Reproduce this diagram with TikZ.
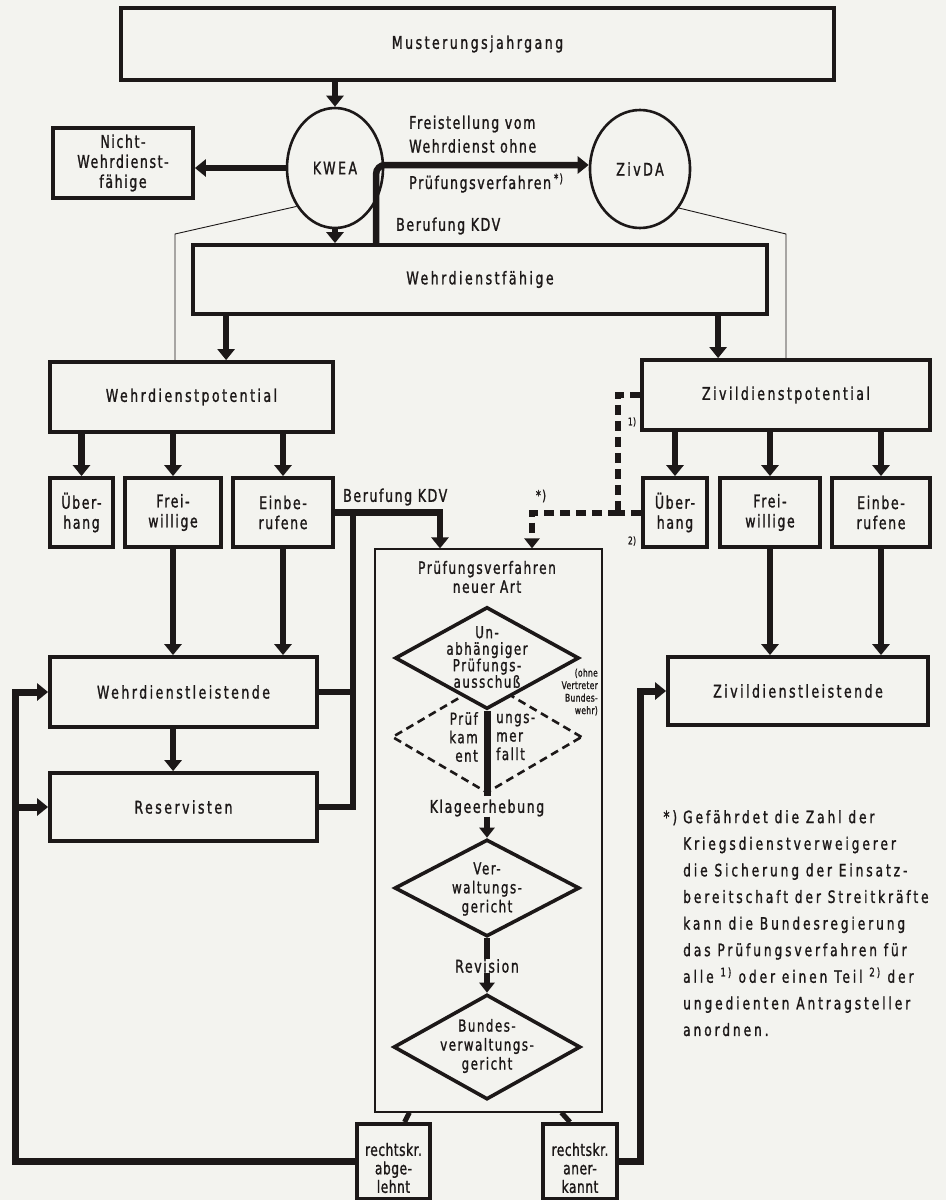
\documentclass[tikz,border=0pt]{standalone}
\usepackage{fontspec}
\setmainfont{DejaVu Sans}[FakeStretch=0.72, LetterSpace=9, FakeBold=1.2]
\newfontfamily\basefam{DejaVu Sans}[FakeStretch=0.72, LetterSpace=9, FakeBold=1.2]
\newfontfamily\tightfam{DejaVu Sans}[FakeStretch=0.72, LetterSpace=3, FakeBold=1.2]
\newfontfamily\widefam{DejaVu Sans}[FakeStretch=0.72, LetterSpace=14, FakeBold=1.2]
\newfontfamily\footfam{DejaVu Sans}[FakeStretch=0.72, LetterSpace=17, FakeBold=1.2]
\usetikzlibrary{arrows.meta,shapes.geometric,calc}
\definecolor{ink}{RGB}{28,24,24}
\definecolor{paper}{RGB}{243,243,239}
\newcommand\mtxt{\basefam\fontsize{17.5}{20}\selectfont}
\newcommand\mwide{\widefam\fontsize{17.5}{20}\selectfont}
\newcommand\mdia{\basefam\fontsize{16.5}{16.5}\selectfont}
\newcommand\mdib{\basefam\fontsize{16.5}{19}\selectfont}
\newcommand\msmall{\tightfam\fontsize{10.5}{12.5}\selectfont}
\newcommand\mfoot{\footfam\fontsize{17}{26.6}\selectfont}
\newcommand\mres{\tightfam\fontsize{17}{18.5}\selectfont}
\begin{document}
\begin{tikzpicture}[x=1pt,y=-1pt,
  box/.style={draw=ink, line width=3.8pt, inner sep=0pt, align=center, font=\mtxt, text=ink},
  ell/.style={draw=ink, ellipse, line width=2.6pt, inner sep=0pt, font=\mwide, text=ink},
  dia/.style={draw=ink, diamond, line width=3.6pt, inner sep=0pt},
  txt/.style={inner sep=0pt, align=center, font=\mtxt, text=ink},
  arr/.style={draw=ink, line width=6.5pt, line join=miter, -{Triangle[width=17pt,length=11pt]}},
  sarr/.style={draw=ink, line width=6pt, -{Triangle[width=15pt,length=10pt]}},
  thk/.style={draw=ink, line width=6.5pt, line join=miter},
  thinl/.style={draw=ink, line width=0.9pt},
  dsh/.style={draw=ink, line width=6pt, dash pattern=on 10pt off 6pt},
]
\useasboundingbox (0,0) rectangle (946,1200);
\fill[paper] (0,0) rectangle (946,1200);

% --- top part
\node[box, font=\mwide, minimum width=713pt, minimum height=72pt] (top) at (477.5,44) {Musterungsjahrgang};
\node[ell, minimum width=96pt, minimum height=120pt] (KWEA) at (335,168) {KWEA};
\node[ell, minimum width=100pt, minimum height=118pt] (ZivDA) at (640,169) {ZivDA};
\node[box, minimum width=140pt, minimum height=70pt] (nicht) at (123,163) {Nicht-\\Wehrdienst-\\fähige};
\node[box, font=\mwide, minimum width=574pt, minimum height=69pt] (wfaehig) at (480,279.5) {Wehrdienstfähige};

\draw[arr] (KWEA.north |- top.south) -- (KWEA.north);
\draw[arr] (KWEA.west) -- (KWEA.west -| nicht.east);
\draw[arr] (KWEA.south) -- (KWEA.south |- wfaehig.north);
\coordinate (fs) at ($(wfaehig.north west)+(185,0)$);
\coordinate (fz) at ($(ZivDA.west)+(0,-4)$);
\draw[arr, rounded corners=9pt] (fs) |- (fz);
\node[txt, anchor=west] (fst1) at (409,124) {Freistellung vom};
\node[txt, anchor=west] (fst2) at (409,146) {Wehrdienst ohne};
\node[txt, anchor=west] (fst3) at (409,183) {Prüfungsverfahren\,\textsuperscript{*)}};
\node[txt, anchor=west] (bk1) at (396,226) {Berufung KDV};

% --- potentials
\node[box, font=\mwide, minimum width=283pt, minimum height=70pt] (wpot) at (191.5,397) {Wehrdienstpotential};
\node[box, font=\mwide, minimum width=288pt, minimum height=70pt] (zpot) at (786,395) {Zivildienstpotential};
\coordinate (tl1) at (175,234);
\coordinate (tr1) at (786,234);
\draw[thinl] (KWEA.225) -- (tl1) -- (tl1 |- wpot.north);
\draw[thinl] (ZivDA.-45) -- (tr1) -- (tr1 |- zpot.north);
\coordinate (a1) at ($(wpot.north west)+(178,0)$);
\coordinate (a2) at ($(zpot.north west)+(78,0)$);
\draw[arr] (wfaehig.south -| a1) -- (a1);
\draw[arr] (wfaehig.south -| a2) -- (a2);

% --- small boxes
\node[box, minimum width=63pt, minimum height=69pt] (wue) at (81.5,512.5) {Über-\\hang};
\node[box, minimum width=96pt, minimum height=69pt] (wfrei) at (173,512.5) {Frei-\\willige};
\node[box, minimum width=100pt, minimum height=69pt] (wein) at (283,512.5) {Einbe-\\rufene};
\node[box, minimum width=64pt, minimum height=69pt] (zue) at (675,512.5) {Über-\\hang};
\node[box, minimum width=100pt, minimum height=69pt] (zfrei) at (770,512.5) {Frei-\\willige};
\node[box, minimum width=98pt, minimum height=69pt] (zein) at (881,512.5) {Einbe-\\rufene};
\foreach \n in {wue,wfrei,wein} \draw[arr] (\n.north |- wpot.south) -- (\n.north);
\foreach \n in {zue,zfrei,zein} \draw[arr] (\n.north |- zpot.south) -- (\n.north);

% --- leistende
\node[box, font=\mwide, minimum width=267pt, minimum height=70pt] (wleist) at (183.5,692) {Wehrdienstleistende};
\node[box, font=\mwide, minimum width=267pt, minimum height=68pt] (res) at (183.5,807) {Reservisten};
\node[box, font=\mwide, minimum width=260pt, minimum height=68pt] (zleist) at (798,691) {Zivildienstleistende};
\draw[arr] (wfrei.south) -- (wfrei.south |- wleist.north);
\draw[arr] (wein.south) -- (wein.south |- wleist.north);
\coordinate (a3) at ($(res.north west)+(125,0)$);
\draw[arr] (wleist.south -| a3) -- (a3);
\draw[arr] (zfrei.south) -- (zfrei.south |- zleist.north);
\draw[arr] (zein.south) -- (zein.south |- zleist.north);

% --- Pruefungsverfahren block
\node[draw=ink, line width=1.2pt, inner sep=0pt, minimum width=227pt, minimum height=563pt] (pv) at (488.5,830.5) {};
\node[txt, font=\basefam\fontsize{17}{19}\selectfont] (pvt) at (487,577) {Prüfungsverfahren\\neuer Art};

\node[dia, line width=2.6pt, dash pattern=on 8pt off 5pt, minimum width=190pt, minimum height=112pt] (d2) at (487,737) {};
\node[dia, fill=paper, minimum width=184pt, minimum height=102pt] (d1) at (487,658) {};
\node[txt, font=\mdia] (d1t) at (487,657) {Un-\\abhängiger\\Prüfungs-\\ausschuß};
\node[txt, font=\msmall, anchor=east, align=right] (ohne) at (598,692) {(ohne\\Vertreter\\Bundes-\\wehr)};
\coordinate (stemend) at (487,796);
\draw[thk, line width=7pt] (d1.south) -- (stemend);
\node[txt, anchor=east, align=right, font=\basefam\fontsize{16.5}{18.5}\selectfont] (d2l) at (478,737) {Prüf\\kam\\ent};
\node[txt, anchor=west, align=left, font=\basefam\fontsize{16.5}{18.5}\selectfont] (d2r) at (496,737) {ungs-\\mer\\fallt};
\node[txt] (kl) at (487,808) {Klageerhebung};
\node[dia, minimum width=185pt, minimum height=97pt] (d3) at (487,888) {};
\node[txt, font=\mdib] (d3t) at (487,889) {Ver-\\waltungs-\\gericht};
\draw[sarr] (kl.south) -- (d3.north);
\node[txt] (rev) at (487,966) {Revision};
\draw[thk, line width=6pt] (d3.south) -- (rev.north);
\node[dia, minimum width=187pt, minimum height=105pt] (d4) at (487,1047) {};
\node[txt, font=\mdib] (d4t) at (487,1046) {Bundes-\\verwaltungs-\\gericht};
\draw[sarr] (rev.south) -- (d4.north);

% --- results
\node[box, minimum width=73pt, minimum height=75pt] (abg) at (393.5,1161.5) {};
\node[txt, font=\mres] (abgt) at (393.5,1168) {rechtskr.\\abge-\\lehnt};
\node[box, minimum width=74pt, minimum height=75pt] (ane) at (580,1161.5) {};
\node[txt, font=\mres] (anet) at (580,1168) {rechtskr.\\aner-\\kannt};
\draw[thk, line width=5pt] ($(pv.south west)+(35,0)$) -- ($(abg.north)+(11,0)$);
\draw[thk, line width=5pt] ($(pv.south west)+(187,0)$) -- ($(ane.north)+(-10,0)$);

% --- loops
\coordinate (lc) at (15,692);
\draw[arr, line width=7pt] (abg.west) -| (lc) -- (wleist.west);
\draw[arr, line width=7pt] (lc |- res.west) -- (res.west);
\coordinate (rc) at (640,691);
\draw[arr, line width=7pt] (ane.east) -| (rc) -- (zleist.west);

% --- Berufung KDV from Einberufene
\coordinate (bk) at (440,512.5);
\draw[arr] (wein.east) -- (bk) -- (bk |- pv.north);
\coordinate (vb) at (353,512.5);
\draw[thk, line cap=rect] (res.east) -| (vb);
\draw[thk] (wleist.east) -- (wleist.east -| vb);
\node[txt, anchor=west] (bk2) at (343,497) {Berufung KDV};

% --- dashed connector
\coordinate (dj) at (618,512.5);
\coordinate (dk) at (532,512.5);
\draw[dsh] (zpot.west) -| (dj);
\draw[dsh] (zue.west) -- (dj);
\draw[dsh, -{Triangle[width=15pt,length=10pt]}] (dj) -- (dk) -- (dk |- pv.north);
\node[txt, font=\basefam\fontsize{14}{14}\selectfont] (star) at (541,496) {*)};
\node[txt, font=\tightfam\fontsize{10.5}{11}\selectfont] (n1) at (632,422) {1)};
\node[txt, font=\tightfam\fontsize{10.5}{11}\selectfont] (n2) at (632,541) {2)};

% --- footnote
\node[txt, anchor=north west, align=left, font=\mfoot] (fn) at (683,810) {\llap{*)\hspace{6pt}}Gefährdet die Zahl der\\Kriegsdienstverweigerer\\die Sicherung der Einsatz-\\bereitschaft der Streitkräfte\\kann die Bundesregierung\\das Prüfungsverfahren für\\alle \textsuperscript{1)} oder einen Teil \textsuperscript{2)} der\\ungedienten Antragsteller\\anordnen.};
\end{tikzpicture}
\end{document}
